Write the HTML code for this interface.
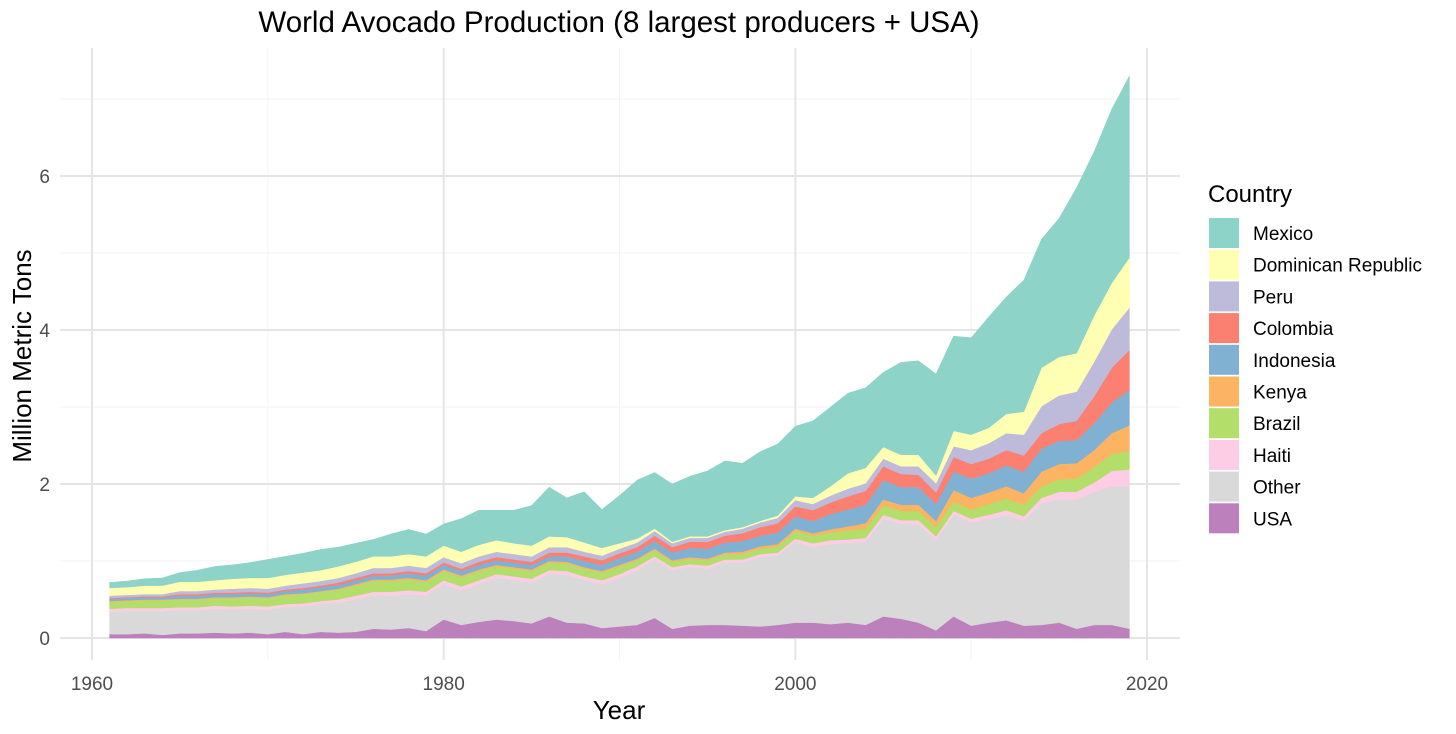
<!DOCTYPE html>
<html><head><meta charset="utf-8"><style>
body{margin:0;background:#fff;}
svg{display:block;font-family:"Liberation Sans",Arial,sans-serif;}
</style></head><body>
<svg id="chart" width="1456" height="734" viewBox="0 0 1456 734">
<rect width="1456" height="734" fill="#fff"/>
<g id="grid"></g>
<g id="areas"></g>
<g id="axes"></g>
<text x="619" y="32" font-size="29.5" text-anchor="middle" fill="#000">World Avocado Production (8 largest producers + USA)</text>
<text x="619" y="719" font-size="26" text-anchor="middle" fill="#000">Year</text>
<text transform="translate(31,356) rotate(-90)" font-size="26" text-anchor="middle" fill="#000">Million Metric Tons</text>
<g id="legend"></g>
</svg>
<script>
const years = [];
for (let y = 1961; y <= 2019; y++) years.push(y);
const seriesNames = ["USA","Other","Haiti","Brazil","Kenya","Indonesia","Colombia","Peru","Dominican Republic","Mexico"];
const usa = [.05,.05,.06,.04,.06,.06,.07,.06,.07,.05, .08,.05,.08,.07,.08,.12,.11,.13,.09,.24, .17,.21,.24,.22,.19,.28,.2,.19,.13,.15, .17,.26,.12,.16,.17,.17,.16,.15,.17,.2, .2,.18,.2,.17,.28,.25,.2,.1,.28,.16, .2,.23,.16,.17,.2,.12,.17,.17,.12];
const other = [.29,.30,.29,.31,.30,.30,.31,.31,.31,.32, .32,.36,.36,.39,.42,.43,.44,.44,.46,.46, .45,.49,.54,.53,.53,.55,.62,.56,.57,.63, .71,.76,.76,.76,.73,.81,.82,.9,.9,1.05, .98,1.04,1.03,1.08,1.27,1.23,1.28,1.17,1.32,1.34, 1.35,1.37,1.36,1.58,1.6,1.68,1.73,1.8,1.85];
const haiti = [.04,.04,.04,.04,.04,.04,.04,.04,.04,.04, .04,.04,.04,.04,.05,.05,.05,.05,.05,.05, .05,.05,.05,.05,.05,.05,.05,.05,.05,.05, .05,.04,.04,.04,.04,.04,.04,.04,.04,.04, .05,.05,.05,.05,.05,.05,.05,.05,.05,.05, .05,.06,.06,.07,.1,.1,.12,.2,.22];
const brazil = [.09,.09,.1,.1,.1,.1,.1,.11,.11,.11, .12,.12,.12,.13,.13,.14,.14,.14,.13,.12, .12,.12,.1,.1,.1,.1,.1,.1,.1,.1, .08,.08,.07,.07,.07,.07,.07,.07,.08,.1, .1,.1,.12,.12,.12,.12,.12,.12,.12,.12, .14,.15,.15,.15,.16,.17,.2,.22,.24];
const kenya = [.01,.01,.01,.01,.01,.01,.01,.01,.01,.01, .01,.01,.01,.01,.02,.02,.02,.02,.02,.02, .02,.02,.02,.02,.02,.02,.02,.02,.02,.02, .02,.02,.02,.02,.02,.02,.03,.03,.03,.03, .03,.04,.05,.07,.08,.08,.08,.08,.15,.15, .15,.16,.15,.19,.2,.2,.22,.27,.33];
const indonesia = [.03,.03,.03,.03,.04,.04,.04,.04,.04,.04, .04,.05,.05,.05,.05,.05,.05,.06,.06,.06, .06,.06,.06,.06,.06,.06,.07,.08,.08,.09, .09,.1,.1,.12,.13,.13,.14,.14,.15,.16, .16,.2,.22,.24,.25,.23,.23,.22,.24,.25, .25,.27,.28,.3,.3,.3,.35,.4,.46];
const colombia = [.01,.01,.01,.01,.02,.02,.02,.02,.02,.02, .02,.02,.02,.03,.03,.03,.03,.03,.03,.03, .03,.04,.04,.04,.04,.05,.05,.06,.06,.06, .06,.07,.07,.08,.09,.09,.1,.11,.12,.13, .14,.15,.17,.18,.18,.17,.16,.15,.19,.19, .19,.2,.21,.2,.22,.25,.35,.45,.52];
const peru = [.03,.03,.03,.03,.04,.04,.04,.05,.05,.05, .05,.06,.06,.06,.06,.07,.07,.07,.07,.07, .07,.07,.07,.07,.07,.07,.07,.06,.06,.06, .06,.06,.05,.05,.05,.05,.06,.06,.07,.08, .08,.09,.1,.1,.1,.1,.11,.12,.14,.18, .2,.22,.27,.35,.37,.38,.45,.5,.55];
const dominican = [.1,.1,.11,.11,.12,.12,.12,.13,.13,.14, .14,.14,.14,.15,.15,.15,.15,.15,.15,.15, .15,.15,.15,.14,.14,.14,.13,.12,.1,.07, .05,.03,.02,.02,.02,.02,.02,.02,.03,.05, .08,.12,.2,.2,.15,.15,.15,.1,.2,.2, .2,.25,.3,.5,.5,.5,.6,.6,.65];
const mexico = [.07,.08,.09,.10,.12,.15,.18,.18,.2,.24, .24,.25,.27,.25,.24,.22,.29,.32,.29,.28, .43,.45,.39,.43,.52,.64,.51,.66,.5,.62, .76,.73,.75,.78,.85,.9,.83,.9,.93,.91, 1.0,1.03,1.04,1.04,.97,1.2,1.22,1.32,1.23,1.26, 1.44,1.52,1.71,1.67,1.8,2.15,2.13,2.26,2.36];
const yTicks = [0,2,4,6];
const yMinor = [1,3,5,7];
const xTicks = [1960,1980,2000,2020];
const xMinor = [1970,1990,2010];
const colors = ["#BC80BD","#D9D9D9","#FCCDE5","#B3DE69","#FDB462","#80B1D3","#FB8072","#BEBADA","#FFFFB3","#8DD3C7"];
const seriesData = [usa,other,haiti,brazil,kenya,indonesia,colombia,peru,dominican,mexico];

const NS = "http://www.w3.org/2000/svg";
const X0 = 60, X1 = 1180, Y0 = 48, Y1 = 660;
function xs(v){ return 92 + (v - 1960) * (1055/60); }
function ys(v){ return 638 - v * 77; }
function mk(tag, attrs, parent){
  const e = document.createElementNS(NS, tag);
  for (const k in attrs) e.setAttribute(k, attrs[k]);
  parent.appendChild(e); return e;
}
const grid = document.getElementById('grid');
yMinor.forEach(v=>{ const l=mk('line',{x1:X0,x2:X1,y1:ys(v),y2:ys(v),stroke:'#f3f3f3','stroke-width':1},grid);
  
   });
xMinor.forEach(v=>{ const l=mk('line',{x1:xs(v),x2:xs(v),y1:Y0,y2:Y1,stroke:'#f3f3f3','stroke-width':1},grid);
  
   });
yTicks.forEach(v=>{ const l=mk('line',{x1:X0,x2:X1,y1:ys(v),y2:ys(v),stroke:'#e5e5e5','stroke-width':2},grid);
  
   });
xTicks.forEach(v=>{ const l=mk('line',{x1:xs(v),x2:xs(v),y1:Y0,y2:Y1,stroke:'#e5e5e5','stroke-width':2},grid);
  
   });

const areas = document.getElementById('areas');
const base = years.map(()=>0);
seriesData.forEach((s, si)=>{
  const top = base.map((b,i)=>b + s[i]);
  let d = '';
  years.forEach((yr,i)=>{ d += (i?'L':'M') + xs(yr).toFixed(2) + ',' + ys(top[i]).toFixed(2); });
  for (let i = years.length-1; i >= 0; i--) d += 'L' + xs(years[i]).toFixed(2) + ',' + ys(base[i]).toFixed(2);
  d += 'Z';
  const p = mk('path',{d:d,fill:colors[si],stroke:colors[si],'stroke-width':0.5},areas);
  
  
  top.forEach((t,i)=>base[i]=t);
});

const axes = document.getElementById('axes');
yTicks.forEach(v=>{ const t=mk('text',{x:50,y:ys(v)+7,'font-size':19,'text-anchor':'end',fill:'#4d4d4d'},axes); t.textContent=v;
  
   });
xTicks.forEach(v=>{ const t=mk('text',{x:xs(v),y:690,'font-size':19,'text-anchor':'middle',fill:'#4d4d4d'},axes); t.textContent=v;
  
   });

const legend = document.getElementById('legend');
const lt = mk('text',{x:1208,y:202,'font-size':24,fill:'#000'},legend); lt.textContent='Country';


for (let k = 0; k < 10; k++){
  const si = 9 - k;
  const cy = 233 + k * 31.7;
  const g = mk('g',{},legend);
  
  
  const r = mk('rect',{x:1209,y:cy-15,width:30,height:30,fill:colors[si]},g);
  
  
  const t = mk('text',{x:1253,y:cy+7,'font-size':19,fill:'#000'},g); t.textContent = seriesNames[si];
  
  
}
</script>
</body></html>
